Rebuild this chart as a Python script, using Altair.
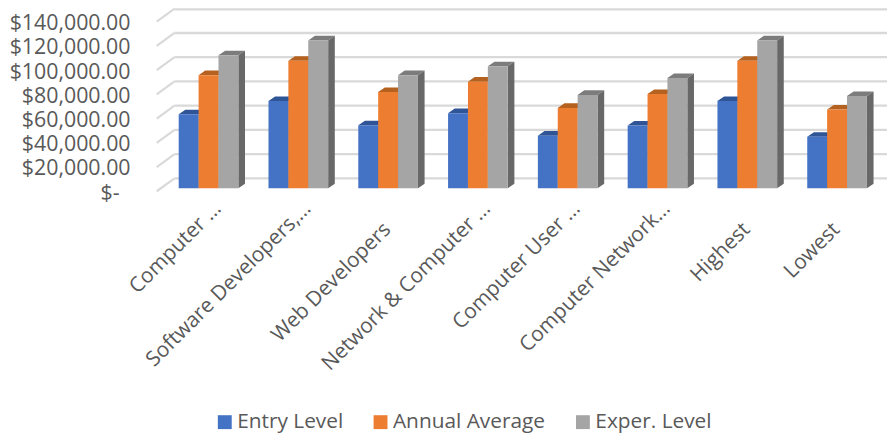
import altair as alt
import pandas as pd

categories = ["Computer …", "Software Developers,…", "Web Developers", "Network & Computer …",
              "Computer User …", "Computer Network…", "Highest", "Lowest"]
series = ["Entry Level", "Annual Average", "Exper. Level"]
entry = [61000, 72000, 52000, 62000, 43400, 51800, 72000, 42500]
average = [93300, 105200, 79400, 88000, 66300, 77800, 105200, 65000]
expert = [109700, 122000, 93300, 100700, 77000, 90900, 122000, 76100]
ticks = [0, 20000, 40000, 60000, 80000, 100000, 120000, 140000]

front = ["#4472C4", "#ED7D31", "#A5A5A5"]
top_c = ["#2F5597", "#B5611F", "#7C7C7C"]
side_c = ["#2F5597", "#B5611F", "#686868"]
GRID = "#D9D9D9"
TEXT = "#595959"
FONT = "Open Sans"

BAR = 0.2215      # bar width in category units
DX = 0.074        # depth shift, category units
DV = 3800         # depth shift, dollars
WALL_BACK = 8187
WALL_FRONT = -2456
WALL_X0, WALL_X1, X_END = -0.577, -0.379, 7.58
XDOM = [-0.819, 7.556]
YDOM = [-3275, 147368]

bars, tops, sides = [], [], []
for s, (name, vals) in enumerate(zip(series, [entry, average, expert])):
    for c, v in enumerate(vals):
        x0 = c + (s - 1.5) * BAR
        x1 = x0 + BAR
        key = f"{s}-{c}"
        bars.append(dict(series=name, s=s, x0=x0, x1=x1, v=v))
        for px, a, b in [(x0, v, v), (x0 + DX, v + DV, v), (x1, v + DV, v), (x1 + DX, v + DV, v + DV)]:
            tops.append(dict(key=key, s=s, x=px, a=a, b=b))
        for px, a, b in [(x1, v, 0), (x1 + DX, v + DV, DV)]:
            sides.append(dict(key=key, s=s, x=px, a=a, b=b))
bars, tops, sides = map(pd.DataFrame, (bars, tops, sides))

xs = alt.Scale(domain=XDOM, nice=False, zero=False)
ys = alt.Scale(domain=YDOM, nice=False, zero=False)
names = str(categories) + "[datum.value]"
whole = f"indexof({names}, '…') < 0"
x_axis = alt.Axis(
    values=list(range(8)), grid=False, ticks=False, domain=False, title=None,
    labelExpr=names,
    labelAngle=315, labelAlign="right",
    labelBaseline="middle", labelFont=FONT, labelFontSize=21, labelColor=TEXT,
    labelPadding={"condition": {"test": whole, "value": 34}, "value": 13},
    labelOffset={"condition": {"test": whole, "value": -1}, "value": 9},
    labelLimit=400, labelOverlap=False, labelBound=False, labelFlush=False)
y_axis = alt.Axis(
    values=ticks, grid=False, ticks=False, domain=False, title=None,
    labelExpr="datum.value === 0 ? '$-' : '$' + format(datum.value, ',.2f')",
    labelFont=FONT, labelFontSize=21.5, labelColor=TEXT,
    labelPadding={"condition": {"test": "datum.value === 0", "value": 16}, "value": 5}, labelOffset=5,
    labelOverlap=False, labelBound=False, labelFlush=False)
X = lambda f: alt.X(f, scale=xs, axis=x_axis)
Y = lambda f: alt.Y(f, scale=ys, axis=y_axis)

walls = pd.DataFrame({"v": [min(t + WALL_BACK, 147600) for t in ticks], "x0": WALL_X1, "x1": X_END})
grid = alt.Chart(walls).mark_rule(color=GRID, strokeWidth=2.4).encode(
    x=X("x0:Q"), x2="x1:Q", y=Y("v:Q"))

diag = pd.DataFrame([dict(t=t, x=x, v=t + off) for t in ticks
                     for x, off in [(WALL_X0, WALL_FRONT), (WALL_X1, WALL_BACK)]])
diagonals = alt.Chart(diag).mark_line(color=GRID, strokeWidth=2.2, clip=False).encode(
    x=X("x:Q"), y=Y("v:Q"), detail="t:N")

layers = [grid, diagonals]
for s in range(3):
    layers.append(alt.Chart(tops[tops.s == s]).mark_area(color=top_c[s], interpolate="linear").encode(
        x=X("x:Q"), y=Y("a:Q"), y2="b:Q", detail="key:N"))
    layers.append(alt.Chart(sides[sides.s == s]).mark_area(color=side_c[s], interpolate="linear").encode(
        x=X("x:Q"), y=Y("a:Q"), y2="b:Q", detail="key:N"))
    layers.append(alt.Chart(bars[bars.s == s]).mark_bar(stroke=None).encode(
        x=X("x0:Q"), x2="x1:Q",
        y=Y("v:Q"), y2=alt.Y2(datum=0),
        color=alt.Color("series:N", scale=alt.Scale(domain=series, range=front), legend=alt.Legend(
            title=None, orient="none", legendX=80, legendY=405, direction="horizontal", columns=3,
            symbolType="square", symbolSize=196, symbolStrokeWidth=0, labelFont=FONT, labelFontSize=21,
            labelColor=TEXT, labelOffset=2, columnPadding=27, padding=0, labelLimit=300))))

chart = alt.layer(*layers).resolve_scale(color="shared").properties(
    width=758, height=184, autosize=alt.AutoSizeParams(type="none"),
    padding={"left": 128, "top": 0, "right": 0, "bottom": 245},
    background="white",
).configure_view(stroke=None)

chart.save("out.html", embed_options={"renderer": "svg", "actions": False})
